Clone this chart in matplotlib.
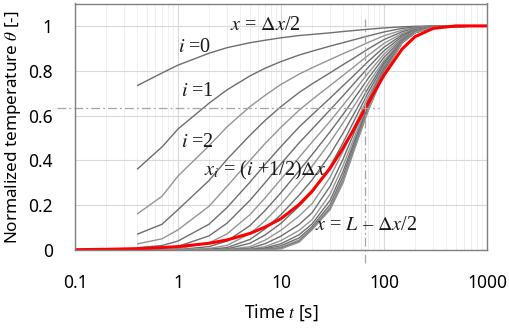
import matplotlib
matplotlib.use("Agg")
import matplotlib.pyplot as plt
import numpy as np

# time points of the node curves [s]
t_nodes = [0.4, 0.7, 1, 2, 3, 5, 7, 10, 15, 20, 30, 40, 50, 70, 100, 150, 200, 300, 1000]

# normalized temperature of node i = 0..19 (x_i = (i+1/2)dx)
theta_nodes = [
    [0.733, 0.79, 0.825, 0.878, 0.903, 0.925, 0.936, 0.947, 0.957, 0.962, 0.969, 0.975, 0.979, 0.985, 0.991, 0.996, 0.998, 1.0, 1.0],
    [0.36, 0.46, 0.54, 0.655, 0.715, 0.777, 0.811, 0.841, 0.870, 0.887, 0.910, 0.925, 0.937, 0.955, 0.973, 0.989, 0.995, 0.999, 1.0],
    [0.16, 0.24, 0.33, 0.465, 0.55, 0.64, 0.69, 0.739, 0.785, 0.813, 0.850, 0.876, 0.895, 0.926, 0.956, 0.981, 0.992, 0.999, 1.0],
    [0.07, 0.115, 0.18, 0.31, 0.405, 0.512, 0.578, 0.640, 0.703, 0.741, 0.791, 0.827, 0.854, 0.897, 0.939, 0.974, 0.989, 0.998, 1.0],
    [0.027, 0.05, 0.09, 0.195, 0.285, 0.40, 0.475, 0.548, 0.624, 0.671, 0.734, 0.779, 0.814, 0.868, 0.922, 0.967, 0.986, 0.997, 1.0],
    [0.01, 0.02, 0.04, 0.115, 0.19, 0.303, 0.382, 0.462, 0.549, 0.603, 0.678, 0.733, 0.775, 0.841, 0.905, 0.960, 0.983, 0.997, 1.0],
    [0.004, 0.008, 0.016, 0.063, 0.12, 0.222, 0.30, 0.385, 0.478, 0.539, 0.626, 0.688, 0.738, 0.814, 0.889, 0.953, 0.980, 0.996, 1.0],
    [0.0015, 0.003, 0.006, 0.032, 0.072, 0.158, 0.232, 0.316, 0.413, 0.481, 0.575, 0.646, 0.702, 0.789, 0.874, 0.947, 0.978, 0.996, 1.0],
    [0.0005, 0.001, 0.002, 0.015, 0.04, 0.109, 0.176, 0.256, 0.354, 0.425, 0.528, 0.605, 0.668, 0.765, 0.860, 0.941, 0.975, 0.995, 1.0],
    [0.0, 0.0, 0.001, 0.007, 0.021, 0.073, 0.130, 0.204, 0.300, 0.373, 0.482, 0.567, 0.635, 0.742, 0.846, 0.935, 0.973, 0.995, 1.0],
    [0.0, 0.0, 0.0, 0.003, 0.011, 0.047, 0.094, 0.158, 0.245, 0.312, 0.426, 0.521, 0.600, 0.721, 0.837, 0.933, 0.972, 0.995, 1.0],
    [0.0, 0.0, 0.0, 0.001, 0.005, 0.030, 0.067, 0.119, 0.196, 0.256, 0.373, 0.478, 0.567, 0.702, 0.827, 0.932, 0.971, 0.995, 1.0],
    [0.0, 0.0, 0.0, 0.0, 0.002, 0.015, 0.044, 0.088, 0.152, 0.206, 0.325, 0.440, 0.537, 0.684, 0.820, 0.930, 0.971, 0.995, 1.0],
    [0.0, 0.0, 0.0, 0.0, 0.001, 0.008, 0.028, 0.062, 0.114, 0.166, 0.285, 0.405, 0.511, 0.668, 0.812, 0.929, 0.970, 0.995, 1.0],
    [0.0, 0.0, 0.0, 0.0, 0.0, 0.004, 0.015, 0.042, 0.088, 0.135, 0.250, 0.376, 0.488, 0.655, 0.805, 0.928, 0.970, 0.995, 1.0],
    [0.0, 0.0, 0.0, 0.0, 0.0, 0.002, 0.009, 0.028, 0.068, 0.116, 0.222, 0.350, 0.469, 0.643, 0.801, 0.927, 0.970, 0.995, 1.0],
    [0.0, 0.0, 0.0, 0.0, 0.0, 0.0, 0.005, 0.019, 0.054, 0.104, 0.203, 0.330, 0.454, 0.634, 0.796, 0.926, 0.970, 0.995, 1.0],
    [0.0, 0.0, 0.0, 0.0, 0.0, 0.0, 0.003, 0.012, 0.045, 0.097, 0.191, 0.315, 0.442, 0.627, 0.793, 0.925, 0.970, 0.995, 1.0],
    [0.0, 0.0, 0.0, 0.0, 0.0, 0.0, 0.002, 0.008, 0.039, 0.093, 0.184, 0.304, 0.435, 0.623, 0.791, 0.925, 0.970, 0.995, 1.0],
    [0.0, 0.0, 0.0, 0.0, 0.0, 0.0, 0.001, 0.005, 0.035, 0.090, 0.180, 0.300, 0.430, 0.620, 0.790, 0.925, 0.970, 0.995, 1.0],
]

# lumped (red) curve
t_red = [0.1, 0.2, 0.4, 0.7, 1, 2, 3, 5, 7, 10, 15, 20, 30, 40, 50, 70, 100, 150, 200, 300, 500, 1000]
theta_red = [0.0015, 0.003, 0.006, 0.011, 0.015, 0.030, 0.045, 0.074, 0.102, 0.140, 0.203, 0.262, 0.365, 0.455, 0.532, 0.655, 0.78, 0.897, 0.952, 0.989, 1.0, 1.0]

tau = 65       # time constant marker [s]
theta_tau = 0.632

plt.rcParams['font.family'] = ['Noto Sans', 'DejaVu Sans']
plt.rcParams['mathtext.fontset'] = 'stix'

fig = plt.figure(figsize=(5.10, 3.28), dpi=100)
ax = fig.add_axes([75/510, 78/328, 412/510, 246.5/328])

ax.set_xscale('log')
ax.set_xlim(0.1, 1000)
ax.set_ylim(0, 1.1)

ax.grid(True, which='major', color='#d9d9d9', lw=0.8)
ax.grid(True, which='minor', axis='x', color='#ececec', lw=0.6)
ax.set_axisbelow(True)

greys = ['#6e6e6e', '#6e6e6e', '#959595', '#6e6e6e', '#959595']
for i, row in enumerate(theta_nodes):
    ax.plot(t_nodes, row, color=greys[i % 5], lw=1.0, solid_capstyle='butt')

ax.plot(t_red, theta_red, color='#ff0000', lw=2.2)

dash = (0, (7, 2.5, 1.5, 2.5))
ax.plot([0.067, 89], [theta_tau, theta_tau], color='#a6a6a6', lw=0.9, ls=dash, clip_on=False)
ax.plot([tau, tau], [-0.058, 1.03], color='#a6a6a6', lw=0.9, ls=dash, clip_on=False)

for s in ax.spines.values():
    s.set_color('#808080')
    s.set_linewidth(1.0)

ax.set_yticks([0, 0.2, 0.4, 0.6, 0.8, 1.0])
ax.set_yticklabels(['0', '0.2', '0.4', '0.6', '0.8', '1'])
ax.set_xticks([0.1, 1, 10, 100, 1000])
ax.set_xticklabels(['0.1', '1', '10', '100', '1000'])
ax.tick_params(which='both', length=0, labelsize=12.5, colors='black')
ax.tick_params(axis='y', pad=16)
ax.tick_params(axis='x', pad=17)

ax.set_ylabel(r'Normalized temperature $\theta$ [-]', fontsize=12.3, labelpad=4)
ax.set_xlabel(r'Time $t$ [s]', fontsize=12.5, labelpad=8)

lab = dict(fontsize=14.5, color='#1a1a1a', family='Liberation Serif', ha='center', va='center')
ax.text(1.45, 0.905, r'$i$ =0', **lab)
ax.text(1.53, 0.707, r'$i$ =1', **lab)
ax.text(1.53, 0.48, r'$i$ =2', **lab)
ax.text(7.0, 1.0, r'$x$ = $\Delta x$/2', **lab)
ax.text(7.0, 0.356, r'$x_i$ = ($i$ +1/2)$\Delta x$', **lab)
ax.text(66.8, 0.111, r'$x$ = $L$ – $\Delta x$/2', **lab)

fig.savefig('out.png', dpi=100)
